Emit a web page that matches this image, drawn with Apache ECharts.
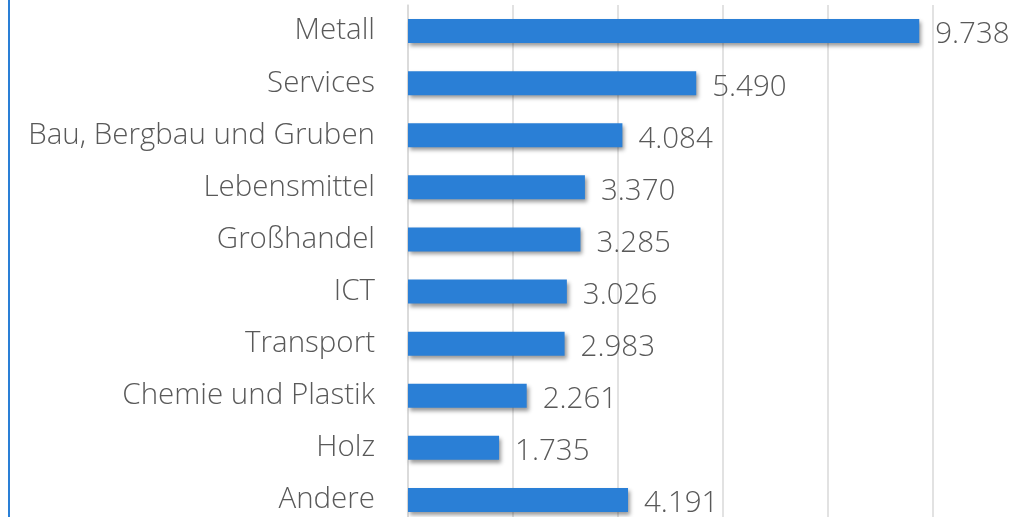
<!DOCTYPE html>
<html lang="de">
  <head>
    <meta charset="UTF-8" />
    <title>Branchen</title>
    <script src="https://cdn.jsdelivr.net/npm/echarts@6.0.0/dist/echarts.min.js"></script>
    <style>
      html, body { margin: 0; padding: 0; background: #fff; }
    </style>
  </head>
  <body>
    <div id="main" style="width: 1031px; height: 517px"></div>
    <script type="text/javascript">
      // Branchen, von oben nach unten wie im Bild
      const categories = [
        "Metall",
        "Services",
        "Bau, Bergbau und Gruben",
        "Lebensmittel",
        "Großhandel",
        "ICT",
        "Transport",
        "Chemie und Plastik",
        "Holz",
        "Andere",
      ];
      const values = [9738, 5490, 4084, 3370, 3285, 3026, 2983, 2261, 1735, 4191];

      // German thousands separator: 9738 -> "9.738"
      function fmt(v) {
        return String(v).replace(/\B(?=(\d{3})+(?!\d))/g, ".");
      }

      let myChart = echarts.init(document.getElementById("main"));

      let options = {
        animation: false,
        // the picture is cropped, so the plot runs past the bottom edge
        grid: { left: 408, top: 5, right: 98, height: 521, outerBoundsMode: "none" },
        xAxis: {
          type: "value",
          min: 0,
          max: 10000,
          interval: 2000,
          axisLabel: { show: false },
          axisLine: { show: false },
          axisTick: { show: false },
          splitLine: { lineStyle: { color: "#d9d9d9", width: 1.5 } },
        },
        yAxis: {
          type: "category",
          data: categories,
          inverse: true,
          axisLine: { show: true, lineStyle: { color: "#d9d9d9", width: 1.5 } },
          axisTick: { show: false },
          axisLabel: {
            margin: 33,
            padding: [4, 0, 0, 0],
            color: "#595959",
            fontFamily: "Open Sans",
            fontWeight: 300,
            fontSize: 29.5,
          },
        },
        series: [
          {
            type: "bar",
            data: values,
            barWidth: 24,
            itemStyle: {
              color: "#2a7fd6",
              shadowColor: "rgba(0,0,0,0.4)",
              shadowBlur: 4,
              shadowOffsetX: 2,
              shadowOffsetY: 3,
            },
            label: {
              show: true,
              position: "right",
              distance: 16,
              offset: [0, 4],
              color: "#595959",
              fontFamily: "Open Sans",
              fontWeight: 300,
              fontSize: 29.5,
              formatter: (p) => fmt(p.value),
            },
          },
        ],
        // blue frame edge on the left of the picture
        graphic: [
          {
            type: "rect",
            shape: { x: 8, y: 0, width: 2, height: 517 },
            style: { fill: "#2a7fd6" },
          },
        ],
      };

      myChart.setOption(options);
    </script>
  </body>
</html>
